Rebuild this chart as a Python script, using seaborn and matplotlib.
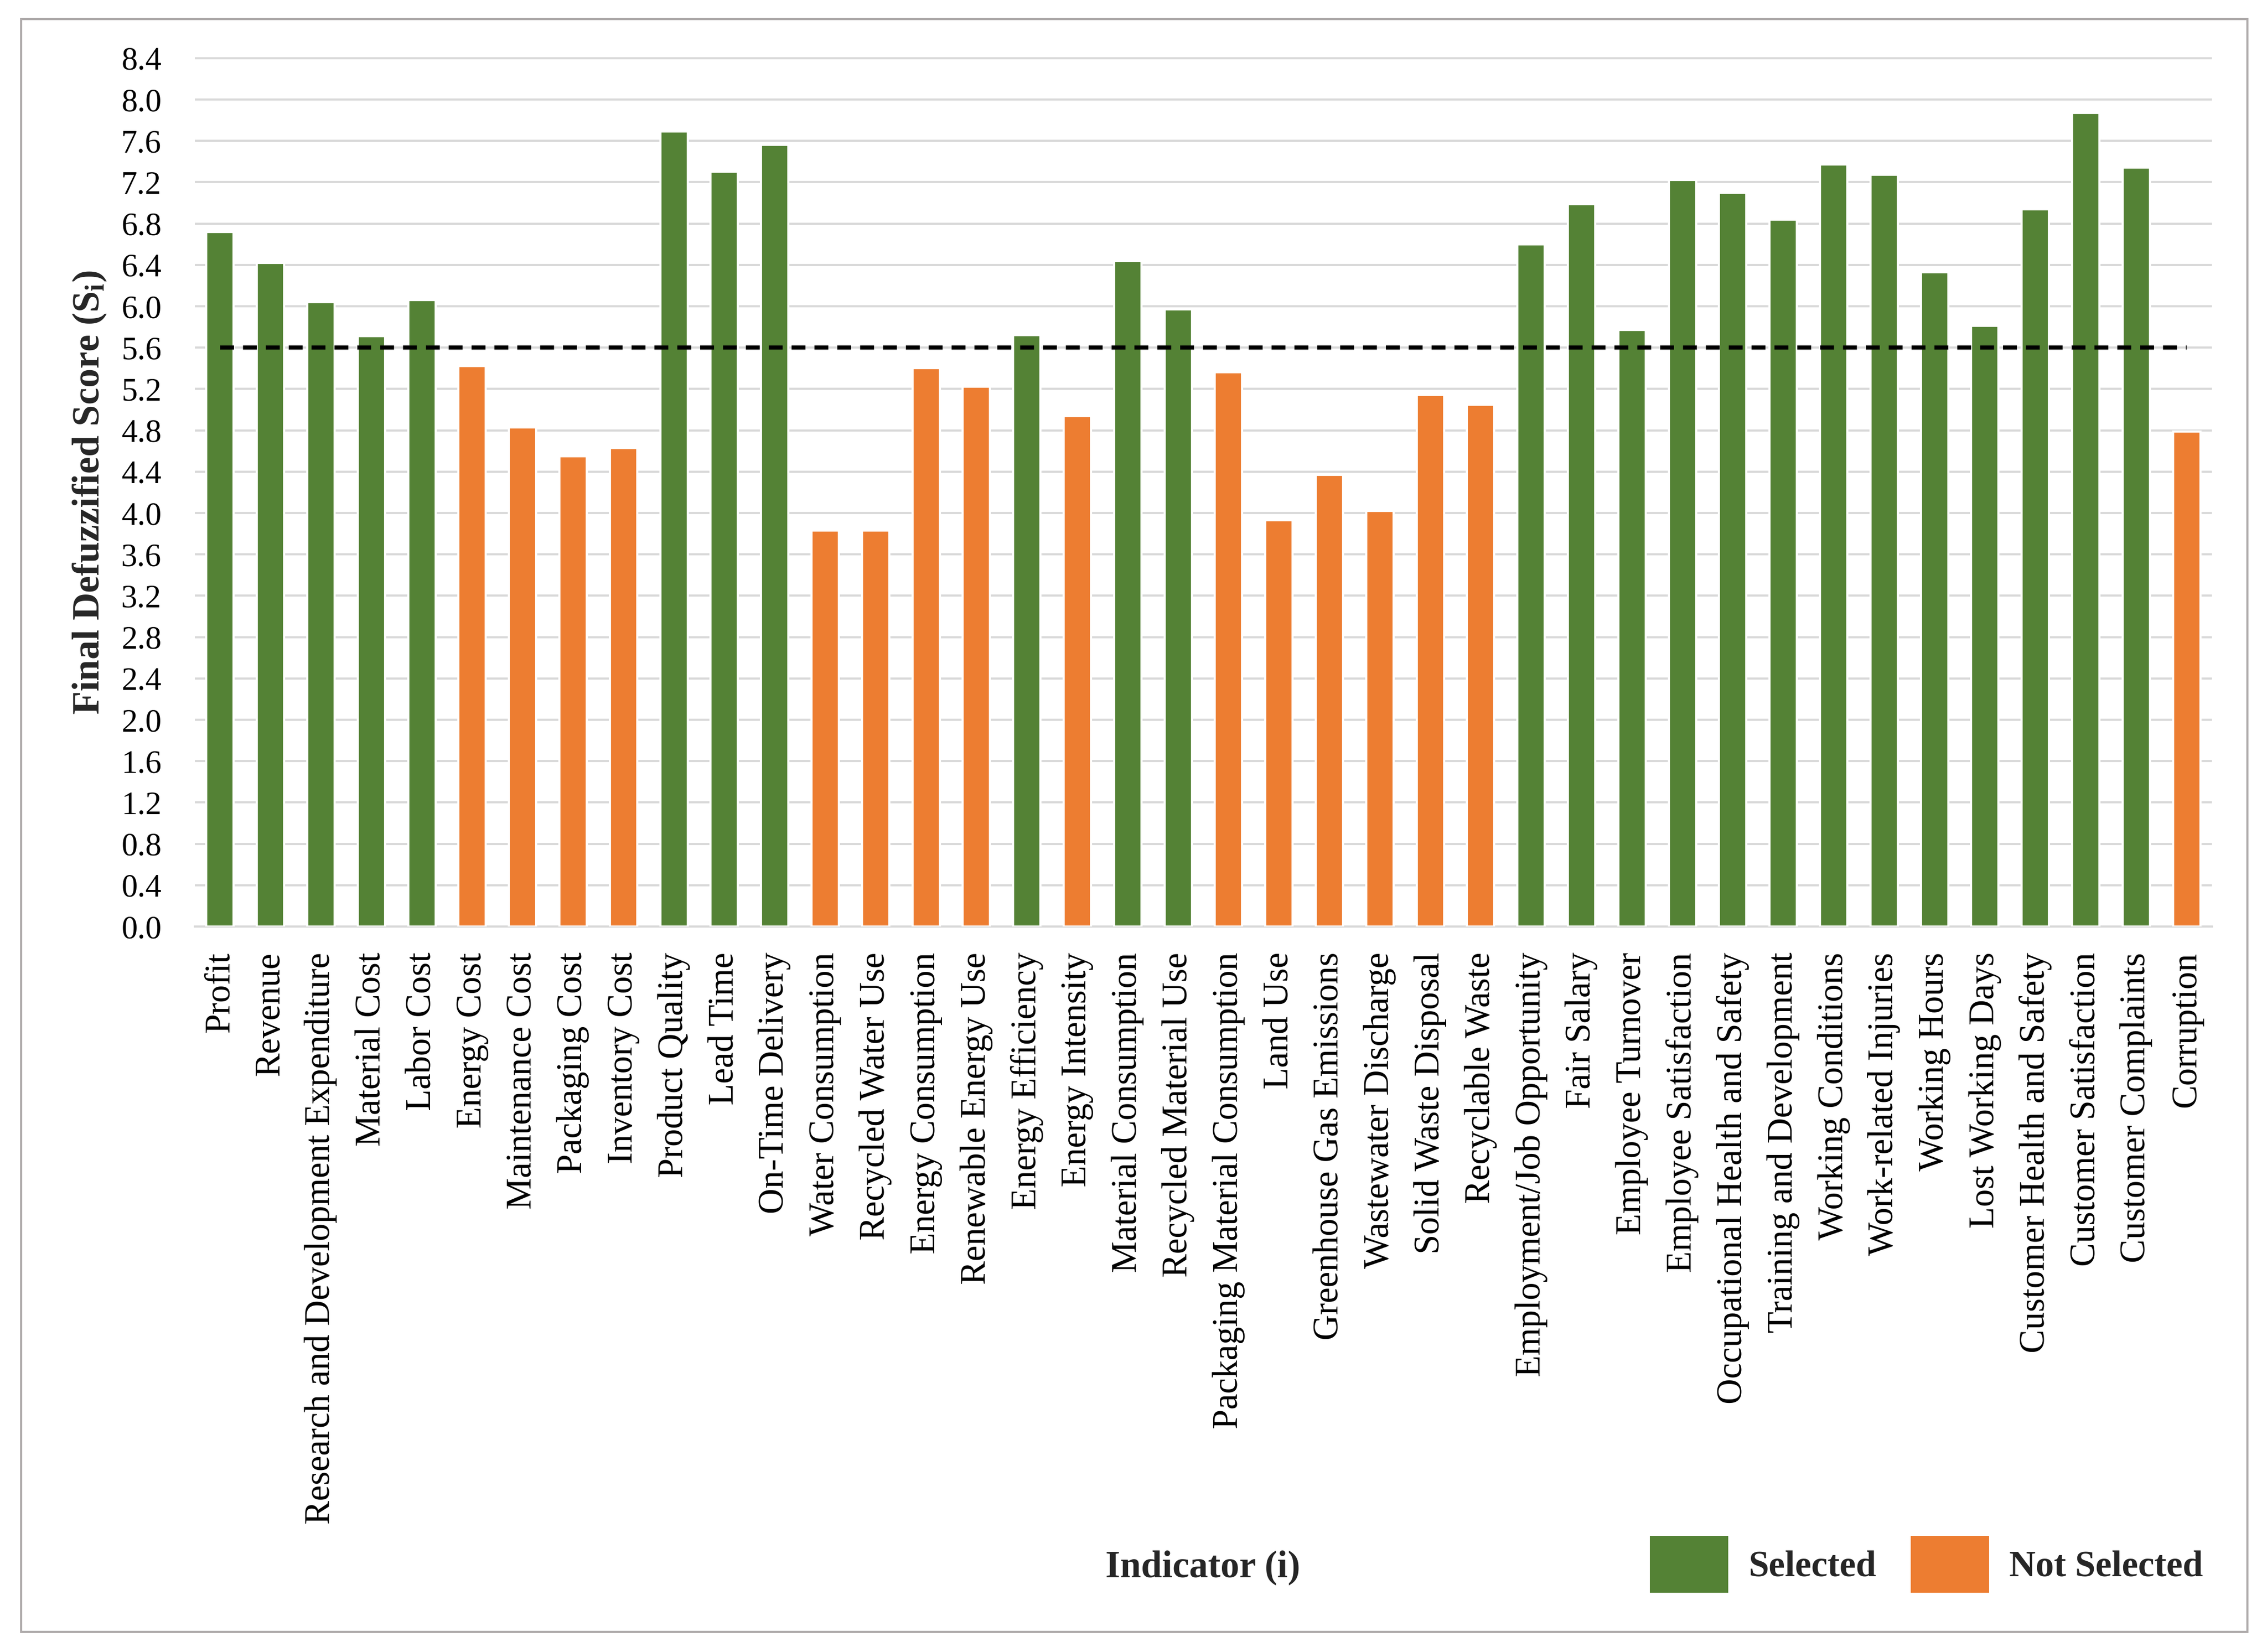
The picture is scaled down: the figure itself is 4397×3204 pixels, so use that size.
import matplotlib
matplotlib.use("Agg")
import matplotlib.pyplot as plt
import seaborn as sns
import pandas as pd
from matplotlib.patches import Patch, Rectangle

categories = [
    "Profit", "Revenue", "Research and Development Expenditure", "Material Cost",
    "Labor Cost", "Energy Cost", "Maintenance Cost", "Packaging Cost",
    "Inventory Cost", "Product Quality", "Lead Time", "On-Time Delivery",
    "Water Consumption", "Recycled Water Use", "Energy Consumption",
    "Renewable Energy Use", "Energy Efficiency", "Energy Intensity",
    "Material Consumption", "Recycled Material Use", "Packaging Material Consumption",
    "Land Use", "Greenhouse Gas Emissions", "Wastewater Discharge",
    "Solid Waste Disposal", "Recyclable Waste", "Employment/Job Opportunity",
    "Fair Salary", "Employee Turnover", "Employee Satisfaction",
    "Occupational Health and Safety", "Training and Development",
    "Working Conditions", "Work-related Injuries", "Working Hours",
    "Lost Working Days", "Customer Health and Safety", "Customer Satisfaction",
    "Customer Complaints", "Corruption",
]
scores = [
    6.72, 6.42, 6.04, 5.71, 6.06, 5.42, 4.83, 4.55, 4.63, 7.69, 7.30, 7.56,
    3.83, 3.83, 5.40, 5.22, 5.72, 4.94, 6.44, 5.97, 5.36, 3.93, 4.37, 4.02,
    5.14, 5.05, 6.60, 6.99, 5.77, 7.22, 7.10, 6.84, 7.37, 7.27, 6.33, 5.81,
    6.94, 7.87, 7.34, 4.79,
]
threshold = 5.6
status_labels = ["Selected", "Not Selected"]
status = [status_labels[0] if s >= threshold else status_labels[1] for s in scores]
y_ticks = [round(0.4 * k, 1) for k in range(22)]

GREEN = "#548235"
ORANGE = "#ED7D31"
GRID = "#D9D9D9"

sns.set_theme(style="white")
plt.rcParams["font.family"] = ["Liberation Serif", "DejaVu Serif"]
plt.rcParams["mathtext.fontset"] = "custom"
plt.rcParams["mathtext.rm"] = "Liberation Serif"
plt.rcParams["mathtext.bf"] = "Liberation Serif:bold"
plt.rcParams["mathtext.it"] = "Liberation Serif:italic"

W, H = 4397, 3204
DPI = 300
fig = plt.figure(figsize=(W / DPI, H / DPI), dpi=DPI)
fig.patch.set_facecolor("white")

# outer frame
fig.patches.append(Rectangle((41 / W, 1 - 3165 / H), (4359 - 41) / W, (3165 - 37) / H,
                             transform=fig.transFigure, fill=False,
                             edgecolor="#AEAAAA", linewidth=1.0, zorder=0))

left, right = 378 / W, 4290 / W
bottom = 1 - 1797 / H
top_px = 112.9 - 0.02 * 200.5
top = 1 - top_px / H
ax = fig.add_axes([left, bottom, right - left, top - bottom])

df = pd.DataFrame({"Indicator": categories, "Score": scores, "Status": status})
sns.barplot(data=df, x="Indicator", y="Score", hue="Status", order=categories,
            hue_order=status_labels, palette=[GREEN, ORANGE], dodge=False,
            width=0.54, legend=False, ax=ax, zorder=3, saturation=1)

ax.hlines(threshold, 0, len(categories) - 1, colors="black", linewidth=1.9,
          linestyles=(0, (3.4, 2.2)), zorder=4)

ax.set_xlim(-0.5, len(categories) - 0.5)
ax.set_ylim(0, 8.42)
ax.set_yticks(y_ticks)
ax.set_yticklabels([f"{t:.1f}" for t in y_ticks])
ax.yaxis.grid(True, color=GRID, linewidth=1.0, zorder=0)
ax.set_axisbelow(True)
for sp in ["left", "right", "top"]:
    ax.spines[sp].set_visible(False)
ax.spines["bottom"].set_color(GRID)
ax.spines["bottom"].set_linewidth(1.0)
ax.tick_params(axis="x", length=0, pad=12, labelsize=16.5, rotation=90, colors="black")
ax.tick_params(axis="y", length=0, pad=15.5, labelsize=15, colors="black")
for lbl in ax.get_xticklabels():
    lbl.set_va("top")
    lbl.set_ha("center")
ax.set_xlabel("")
ax.set_ylabel("")

fig.text(174 / W, 1 - 955 / H, "Final Defuzzified Score (S$_{\\mathbf{i}}$)",
         rotation=90, ha="center", va="center", fontsize=17.8, fontweight="bold")
fig.text(2333 / W, 1 - 3040 / H, "Indicator (i)", ha="center", va="center",
         fontsize=17.5, fontweight="bold")

handles = [Patch(facecolor=GREEN, edgecolor="none"), Patch(facecolor=ORANGE, edgecolor="none")]
fig.legend(handles, status_labels, loc="center right",
           bbox_to_anchor=(4273 / W, 1 - 3034 / H), ncol=2, frameon=False,
           prop={"size": 17, "weight": "bold"}, handlelength=2.15, handleheight=2.0,
           handletextpad=0.55, columnspacing=0.95, borderpad=0, borderaxespad=0)

fig.savefig("out.png", dpi=DPI, facecolor="white")
